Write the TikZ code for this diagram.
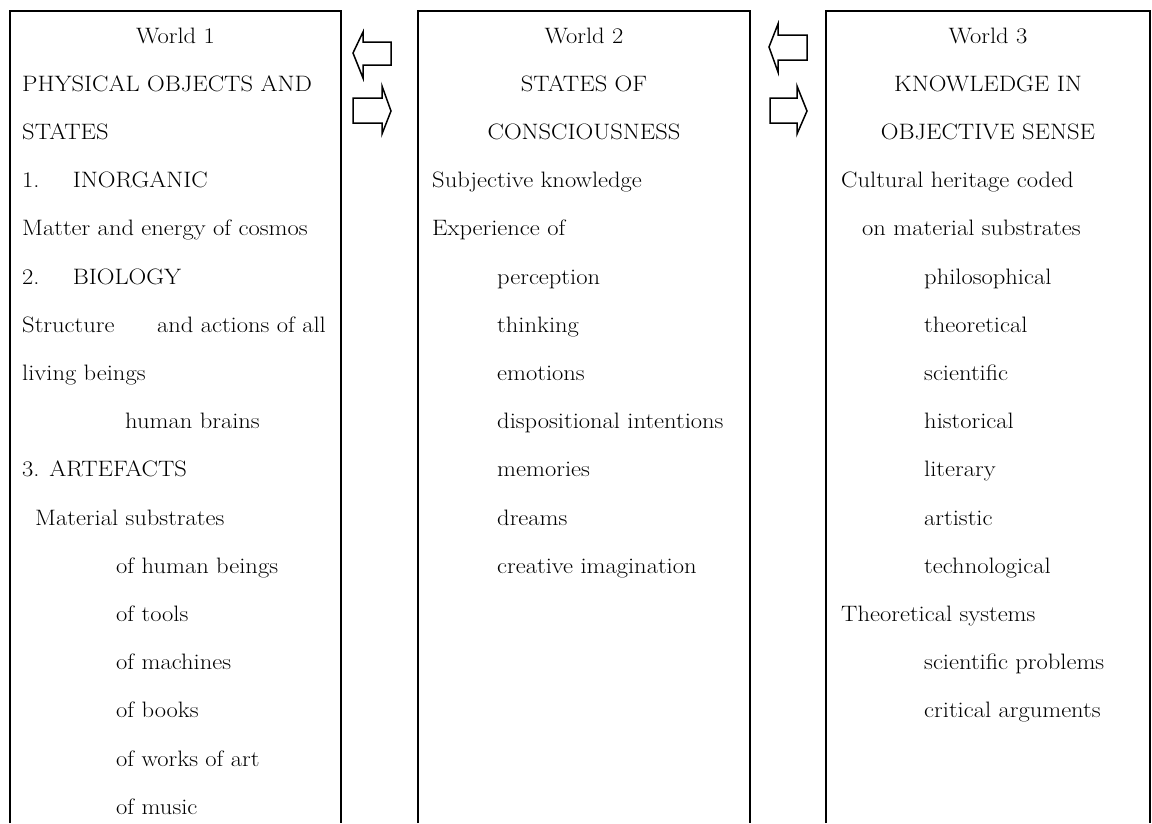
\documentclass[tikz,border=0pt]{standalone}
\usepackage{fontspec}
\begin{document}
\begin{tikzpicture}[x=1pt,y=-1pt,
  txt/.style={anchor=base west,inner sep=0pt,xscale=1.1,font=\fontsize{22.3}{26}\selectfont},
  ctr/.style={anchor=base,inner sep=0pt,xscale=1.1,font=\fontsize{22.3}{26}\selectfont},
  frame/.style={draw=black,line width=2pt},
  blockarrow/.style={draw=black,line width=1.5pt,line join=miter,fill=white}]
\useasboundingbox (0,0) rectangle (1152,823);
\def\rowy#1{43+(#1-1)*48.2}
% boxes (open at the bottom edge of the picture)
\draw[frame] (10,823) -- (10,11) -- (341,11) -- (341,823);
\draw[frame] (418,823) -- (418,11) -- (750,11) -- (750,823);
\draw[frame] (826,823) -- (826,11) -- (1150,11) -- (1150,823);
% block arrows
\draw[blockarrow] (353,53) -- (363,32) -- (363,42) -- (391,42) -- (391,65) -- (363,65) -- (363,78) -- cycle;
\draw[blockarrow] (353,98) -- (382,98) -- (382,86) -- (391,111) -- (382,134) -- (382,123) -- (353,123) -- cycle;
\draw[blockarrow] (769,47) -- (778,24) -- (778,35) -- (807,35) -- (807,60) -- (778,60) -- (778,72) -- cycle;
\draw[blockarrow] (770,98) -- (797,98) -- (797,86) -- (807,111) -- (797,134) -- (797,123) -- (770,123) -- cycle;
% World 1
\node[ctr] (a1) at (175.5,{\rowy{1}}) {World 1};
\node[txt] (a2) at (22,{\rowy{2}}) {PHYSICAL OBJECTS AND};
\node[txt] (a3) at (22,{\rowy{3}}) {STATES};
\node[txt] (a4) at (22,{\rowy{4}}) {\makebox[46pt][l]{1.}INORGANIC};
\node[txt] (a5) at (22,{\rowy{5}}) {Matter and energy of cosmos};
\node[txt] (a6) at (22,{\rowy{6}}) {\makebox[46pt][l]{2.}BIOLOGY};
\node[txt] (a7) at (22,{\rowy{7}}) {\makebox[276pt][l]{Structure\hfill and actions of all}};
\node[txt] (a8) at (22,{\rowy{8}}) {living beings};
\node[txt] (a9) at (125,{\rowy{9}}) {human brains};
\node[txt] (a10) at (22,{\rowy{10}}) {3. ARTEFACTS};
\node[txt] (a11) at (35,{\rowy{11}}) {Material substrates};
\node[txt] (a12) at (116,{\rowy{12}}) {of human beings};
\node[txt] (a13) at (116,{\rowy{13}}) {of tools};
\node[txt] (a14) at (116,{\rowy{14}}) {of machines};
\node[txt] (a15) at (116,{\rowy{15}}) {of books};
\node[txt] (a16) at (116,{\rowy{16}}) {of works of art};
\node[txt] (a17) at (116,{\rowy{17}}) {of music};
% World 2
\node[ctr] (b1) at (584,{\rowy{1}}) {World 2};
\node[ctr] (b2) at (584,{\rowy{2}}) {STATES OF};
\node[ctr] (b3) at (584,{\rowy{3}}) {CONSCIOUSNESS};
\node[txt] (b4) at (432,{\rowy{4}}) {Subjective knowledge};
\node[txt] (b5) at (432,{\rowy{5}}) {Experience of};
\node[txt] (b6) at (497,{\rowy{6}}) {perception};
\node[txt] (b7) at (497,{\rowy{7}}) {thinking};
\node[txt] (b8) at (497,{\rowy{8}}) {emotions};
\node[txt] (b9) at (497,{\rowy{9}}) {dispositional intentions};
\node[txt] (b10) at (497,{\rowy{10}}) {memories};
\node[txt] (b11) at (497,{\rowy{11}}) {dreams};
\node[txt] (b12) at (497,{\rowy{12}}) {creative imagination};
% World 3
\node[ctr] (c1) at (988,{\rowy{1}}) {World 3};
\node[ctr] (c2) at (988,{\rowy{2}}) {KNOWLEDGE IN};
\node[ctr] (c3) at (988,{\rowy{3}}) {OBJECTIVE SENSE};
\node[txt] (c4) at (841,{\rowy{4}}) {Cultural heritage coded};
\node[txt] (c5) at (862,{\rowy{5}}) {on material substrates};
\node[txt] (c6) at (924,{\rowy{6}}) {philosophical};
\node[txt] (c7) at (924,{\rowy{7}}) {theoretical};
\node[txt] (c8) at (924,{\rowy{8}}) {scientific};
\node[txt] (c9) at (924,{\rowy{9}}) {historical};
\node[txt] (c10) at (924,{\rowy{10}}) {literary};
\node[txt] (c11) at (924,{\rowy{11}}) {artistic};
\node[txt] (c12) at (924,{\rowy{12}}) {technological};
\node[txt] (c13) at (841,{\rowy{13}}) {Theoretical systems};
\node[txt] (c14) at (924,{\rowy{14}}) {scientific problems};
\node[txt] (c15) at (924,{\rowy{15}}) {critical arguments};
\end{tikzpicture}
\end{document}
